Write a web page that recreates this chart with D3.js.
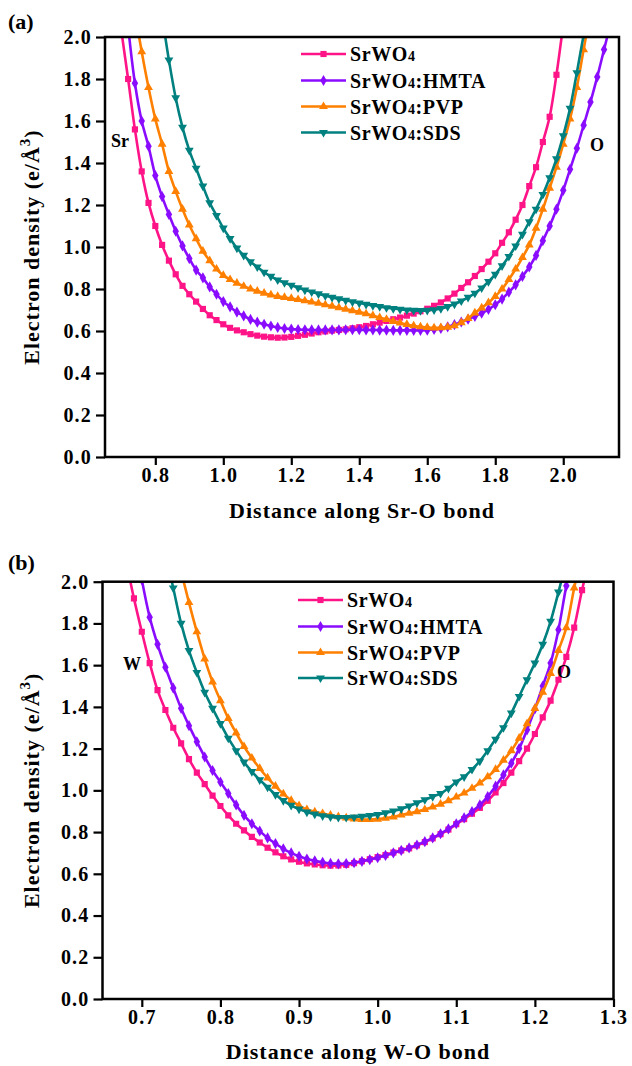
<!DOCTYPE html>
<html><head><meta charset="utf-8">
<script src="https://cdn.jsdelivr.net/npm/d3@7"></script>
<style>
body{margin:0;background:#fff}
svg{display:block}
text{font-family:'Liberation Serif','Times New Roman',Times,serif;font-weight:bold;fill:#000}
</style>
</head><body>
<svg id="c" width="632" height="1066"></svg>
<script>
// ---------- data ----------
const seriesNames = ["SrWO4", "SrWO4:HMTA", "SrWO4:PVP", "SrWO4:SDS"];
const yTicks = [0.0, 0.2, 0.4, 0.6, 0.8, 1.0, 1.2, 1.4, 1.6, 1.8, 2.0];
const xTicksA = [0.8, 1.0, 1.2, 1.4, 1.6, 1.8, 2.0];
const xTicksB = [0.7, 0.8, 0.9, 1.0, 1.1, 1.2, 1.3];

// panel (a): distance along Sr-O bond
const xA = [0.70,0.72,0.74,0.76,0.78,0.80,0.82,0.84,0.86,0.88,0.90,0.92,0.94,0.96,0.98,
  1.00,1.02,1.04,1.06,1.08,1.10,1.12,1.14,1.16,1.18,1.20,1.22,1.24,1.26,1.28,1.30,1.32,1.34,1.36,1.38,
  1.40,1.42,1.44,1.46,1.48,1.50,1.52,1.54,1.56,1.58,1.60,1.62,1.64,1.66,1.68,1.70,1.72,1.74,1.76,1.78,
  1.80,1.82,1.84,1.86,1.88,1.90,1.92,1.94,1.96,1.98,2.00,2.02,2.04,2.06,2.08,2.10,2.12,2.14];
const srwo4A = [2.03,1.80,1.56,1.36,1.21,1.10,1.01,0.935,0.87,0.815,0.775,0.74,0.705,0.675,0.652,
  0.632,0.615,0.603,0.594,0.585,0.578,0.573,0.570,0.568,0.569,0.572,0.577,0.582,0.588,0.594,0.598,0.602,0.605,0.608,0.613,
  0.618,0.624,0.632,0.640,0.648,0.656,0.664,0.673,0.683,0.694,0.706,0.720,0.736,0.755,0.778,0.805,0.832,0.862,0.895,0.93,
  0.97,1.02,1.07,1.13,1.20,1.29,1.38,1.50,1.62,1.82,2.06,null,null,null,null,null,null,null];
const hmtaA = [null,2.05,1.78,1.60,1.48,1.34,1.24,1.155,1.075,1.005,0.945,0.89,0.853,0.81,0.775,
  0.74,0.715,0.69,0.672,0.655,0.642,0.632,0.624,0.617,0.612,0.609,0.607,0.606,0.605,0.605,0.605,0.605,0.605,0.606,0.606,
  0.606,0.605,0.605,0.604,0.604,0.603,0.603,0.603,0.603,0.603,0.604,0.607,0.612,0.620,0.630,0.643,0.656,0.670,0.685,0.703,
  0.725,0.752,0.785,0.82,0.86,0.905,0.96,1.03,1.10,1.18,1.27,1.37,1.47,1.58,1.69,1.81,1.94,2.07];
const pvpA = [null,null,2.12,1.93,1.76,1.61,1.49,1.36,1.265,1.18,1.105,1.04,0.98,0.935,0.895,
  0.865,0.845,0.828,0.813,0.800,0.790,0.780,0.772,0.765,0.760,0.755,0.750,0.744,0.738,0.732,0.725,0.718,0.711,0.704,0.697,
  0.690,0.682,0.673,0.664,0.655,0.646,0.638,0.631,0.625,0.620,0.617,0.615,0.616,0.618,0.625,0.640,0.66,0.686,0.71,0.735,
  0.765,0.80,0.845,0.895,0.95,1.01,1.09,1.18,1.28,1.38,1.49,1.61,1.76,1.94,2.12,null,null,null];
const sdsA = [null,null,null,null,null,null,2.10,1.89,1.71,1.57,1.46,1.375,1.29,1.21,1.15,
  1.09,1.04,0.995,0.96,0.93,0.905,0.88,0.86,0.843,0.83,0.818,0.806,0.795,0.786,0.777,0.768,0.76,0.753,0.746,0.739,
  0.733,0.727,0.721,0.716,0.711,0.707,0.703,0.700,0.698,0.697,0.698,0.701,0.707,0.716,0.728,0.743,0.76,0.78,0.805,0.835,
  0.87,0.91,0.955,1.005,1.06,1.12,1.18,1.25,1.33,1.42,1.53,1.66,1.83,2.01,2.18,null,null,null];

// panel (b): distance along W-O bond
const xB = [0.68,0.69,0.70,0.71,0.72,0.73,0.74,0.75,0.76,0.77,0.78,0.79,0.80,0.81,0.82,0.83,0.84,0.85,0.86,0.87,
  0.88,0.89,0.90,0.91,0.92,0.93,0.94,0.95,0.96,0.97,0.98,0.99,1.00,1.01,1.02,1.03,1.04,1.05,1.06,1.07,
  1.08,1.09,1.10,1.11,1.12,1.13,1.14,1.15,1.16,1.17,1.18,1.19,1.20,1.21,1.22,1.23,1.24,1.25,1.26,1.27];
const srwo4B = [2.10,1.92,1.76,1.61,1.48,1.385,1.30,1.225,1.15,1.085,1.03,0.975,0.925,0.88,0.84,0.808,0.777,0.750,0.725,0.703,
  0.684,0.669,0.658,0.650,0.645,0.641,0.639,0.640,0.643,0.651,0.660,0.670,0.680,0.690,0.702,0.712,0.722,0.736,0.752,0.770,
  0.790,0.812,0.838,0.862,0.888,0.916,0.95,0.99,1.035,1.085,1.14,1.20,1.27,1.35,1.43,1.53,1.64,1.78,1.96,2.12];
const hmtaB = [null,null,2.01,1.83,1.70,1.59,1.49,1.393,1.31,1.233,1.16,1.095,1.04,0.985,0.93,0.88,0.84,0.805,0.772,0.745,
  0.72,0.70,0.684,0.671,0.662,0.655,0.650,0.648,0.649,0.653,0.660,0.668,0.677,0.688,0.700,0.712,0.724,0.738,0.754,0.772,
  0.792,0.815,0.840,0.868,0.898,0.93,0.97,1.02,1.074,1.13,1.20,1.29,1.39,1.50,1.61,1.77,1.98,2.15,null,null];
const pvpB = [null,null,null,null,null,null,null,2.05,1.90,1.76,1.63,1.52,1.43,1.345,1.275,1.21,1.155,1.105,1.06,1.02,
  0.983,0.952,0.927,0.908,0.897,0.889,0.881,0.874,0.868,0.863,0.860,0.860,0.862,0.867,0.873,0.882,0.890,0.898,0.908,0.920,
  0.934,0.950,0.968,0.987,1.01,1.035,1.065,1.10,1.145,1.19,1.25,1.32,1.393,1.47,1.56,1.67,1.78,1.97,2.14,null];
const sdsB = [null,null,null,null,null,2.14,1.97,1.80,1.67,1.565,1.47,1.393,1.32,1.25,1.19,1.135,1.09,1.05,1.015,0.98,
  0.951,0.928,0.91,0.896,0.886,0.878,0.873,0.870,0.870,0.872,0.875,0.879,0.884,0.892,0.901,0.911,0.925,0.940,0.955,0.970,
  0.985,1.01,1.04,1.065,1.10,1.14,1.19,1.245,1.30,1.37,1.45,1.53,1.61,1.70,1.81,1.95,2.10,null,null,null];

// ---------- style ----------
const colors = ["#ff1488", "#8a0cff", "#ff8000", "#00807f"];
const symbols = [d3.symbolSquare, d3.symbolDiamond, d3.symbolTriangle, d3.symbolTriangle];
const symSize = [38, 36, 34, 34];
const symRot = [0, 0, 0, 180];
const FONT = "'Liberation Serif','Times New Roman',Times,serif";

const svg = d3.select("#c");

function panel(cfg) {
  const g = svg.append("g");
  const x = d3.scaleLinear().domain(cfg.xDomain).range([cfg.left, cfg.right]);
  const y = d3.scaleLinear().domain([0, 2]).range([cfg.bottom, cfg.top]);

  const clipId = "clip" + cfg.id;
  svg.append("clipPath").attr("id", clipId).append("rect")
    .attr("x", cfg.left).attr("y", cfg.top)
    .attr("width", cfg.right - cfg.left).attr("height", cfg.bottom - cfg.top);

  const plot = g.append("g").attr("clip-path", `url(#${clipId})`);
  const line = d3.line()
    .defined(d => d[1] != null)
    .x(d => x(d[0])).y(d => y(d[1]))
    .curve(d3.curveCatmullRom.alpha(0.5));

  cfg.series.forEach((vals, i) => {
    const pts = cfg.grid.map((xv, k) => [xv, vals[k]]);
    plot.append("path").datum(pts)
      .attr("d", line).attr("fill", "none")
      .attr("stroke", colors[i]).attr("stroke-width", 2.6);
    plot.append("g").selectAll("path")
      .data(pts.filter(d => d[1] != null))
      .join("path")
      .attr("d", d3.symbol().type(symbols[i]).size(symSize[i]))
      .attr("transform", d => `translate(${x(d[0])},${y(d[1])}) rotate(${symRot[i]})`)
      .attr("fill", colors[i]);
  });

  // axes
  const ax = g.append("g").attr("transform", `translate(${cfg.left},0)`)
    .call(d3.axisLeft(y).tickValues(yTicks).tickSize(9).tickPadding(4).tickFormat(d3.format(".1f")));
  const bx = g.append("g").attr("transform", `translate(0,${cfg.bottom})`)
    .call(d3.axisBottom(x).tickValues(cfg.xTicks).tickSize(8).tickPadding(3).tickFormat(d3.format(".1f")));
  [ax, bx].forEach(a => {
    a.select(".domain").remove();
    a.selectAll(".tick line").attr("stroke", "#000").attr("stroke-width", 2.2);
    a.selectAll(".tick text").attr("font-family", FONT).attr("font-weight", "bold")
      .attr("font-size", 20).attr("letter-spacing", "1.2px").attr("fill", "#000");
  });

  // frame
  g.append("rect").attr("x", cfg.left).attr("y", cfg.top)
    .attr("width", cfg.right - cfg.left).attr("height", cfg.bottom - cfg.top)
    .attr("fill", "none").attr("stroke", "#000").attr("stroke-width", 2.5);

  // x title
  g.append("text").attr("x", (cfg.left + cfg.right) / 2).attr("y", cfg.xTitleY)
    .attr("text-anchor", "middle").attr("font-size", 22).attr("letter-spacing", "1px")
    .text(cfg.xTitle);

  // y title
  const yt = g.append("text")
    .attr("transform", `translate(39,${(cfg.top + cfg.bottom) / 2}) rotate(-90)`)
    .attr("text-anchor", "middle").attr("font-size", 22).attr("letter-spacing", "1px");
  yt.append("tspan").text("Electron density (e/Å");
  yt.append("tspan").attr("font-size", 15).attr("dy", -9).text("3");
  yt.append("tspan").attr("dy", 9).text(")");

  // panel letter
  g.append("text").attr("x", 8).attr("y", cfg.letterY).attr("font-size", 22).text(cfg.letter);

  // atom labels
  cfg.atoms.forEach(a => {
    g.append("text").attr("x", a.x).attr("y", a.y).attr("font-size", 18).text(a.t);
  });

  // legend
  seriesNames.forEach((name, i) => {
    const ly = cfg.legY[i];
    const lg = g.append("g");
    lg.append("line").attr("x1", cfg.legX).attr("x2", cfg.legX + 45)
      .attr("y1", ly).attr("y2", ly).attr("stroke", colors[i]).attr("stroke-width", 2.6);
    lg.append("path").attr("d", d3.symbol().type(symbols[i]).size(symSize[i]))
      .attr("transform", `translate(${cfg.legX + 22.5},${ly}) rotate(${symRot[i]})`)
      .attr("fill", colors[i]);
    const t = lg.append("text").attr("x", cfg.legX + 49).attr("y", ly + 7)
      .attr("font-size", 20).attr("letter-spacing", "0.6px");
    const k = name.indexOf("4");
    t.append("tspan").text(name.slice(0, k));
    t.append("tspan").attr("font-size", 14).text("4");
    if (k < name.length - 1) t.append("tspan").text(name.slice(k + 1));
  });
}

panel({
  id: "a", left: 105, right: 619, top: 37, bottom: 457,
  xDomain: [0.652, 2.164], grid: xA, series: [srwo4A, hmtaA, pvpA, sdsA],
  xTicks: xTicksA, xTitle: "Distance along Sr-O bond", xTitleY: 518,
  letter: "(a)", letterY: 29,
  atoms: [{t: "Sr", x: 111, y: 147}, {t: "O", x: 590, y: 151}],
  legX: 301, legY: [54, 80.5, 106.5, 132.5]
});

panel({
  id: "b", left: 102.5, right: 613.5, top: 581.7, bottom: 999,
  xDomain: [0.65, 1.3], grid: xB, series: [srwo4B, hmtaB, pvpB, sdsB],
  xTicks: xTicksB, xTitle: "Distance along W-O bond", xTitleY: 1059,
  letter: "(b)", letterY: 570,
  atoms: [{t: "W", x: 123, y: 670}, {t: "O", x: 557, y: 678}],
  legX: 298, legY: [600, 626.5, 652.5, 678]
});
</script>
</body></html>
